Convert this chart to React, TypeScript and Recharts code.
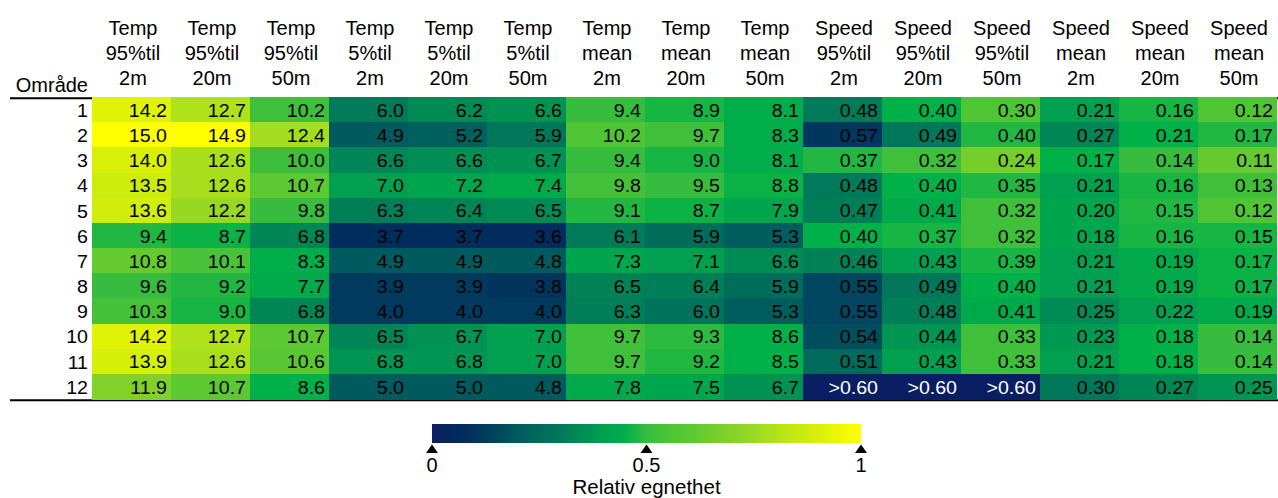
import { BarChart, Bar, XAxis, YAxis } from "recharts";

const areas = ["1", "2", "3", "4", "5", "6", "7", "8", "9", "10", "11", "12"];

const headers = [
  ["Temp", "95%til", "2m"], ["Temp", "95%til", "20m"], ["Temp", "95%til", "50m"],
  ["Temp", "5%til", "2m"], ["Temp", "5%til", "20m"], ["Temp", "5%til", "50m"],
  ["Temp", "mean", "2m"], ["Temp", "mean", "20m"], ["Temp", "mean", "50m"],
  ["Speed", "95%til", "2m"], ["Speed", "95%til", "20m"], ["Speed", "95%til", "50m"],
  ["Speed", "mean", "2m"], ["Speed", "mean", "20m"], ["Speed", "mean", "50m"],
];

// values per area, [2m, 20m, 50m]
const temp95 = [
  [14.2, 12.7, 10.2], [15.0, 14.9, 12.4], [14.0, 12.6, 10.0], [13.5, 12.6, 10.7],
  [13.6, 12.2, 9.8], [9.4, 8.7, 6.8], [10.8, 10.1, 8.3], [9.6, 9.2, 7.7],
  [10.3, 9.0, 6.8], [14.2, 12.7, 10.7], [13.9, 12.6, 10.6], [11.9, 10.7, 8.6],
];
const temp5 = [
  [6.0, 6.2, 6.6], [4.9, 5.2, 5.9], [6.6, 6.6, 6.7], [7.0, 7.2, 7.4],
  [6.3, 6.4, 6.5], [3.7, 3.7, 3.6], [4.9, 4.9, 4.8], [3.9, 3.9, 3.8],
  [4.0, 4.0, 4.0], [6.5, 6.7, 7.0], [6.8, 6.8, 7.0], [5.0, 5.0, 4.8],
];
const tempMean = [
  [9.4, 8.9, 8.1], [10.2, 9.7, 8.3], [9.4, 9.0, 8.1], [9.8, 9.5, 8.8],
  [9.1, 8.7, 7.9], [6.1, 5.9, 5.3], [7.3, 7.1, 6.6], [6.5, 6.4, 5.9],
  [6.3, 6.0, 5.3], [9.7, 9.3, 8.6], [9.7, 9.2, 8.5], [7.8, 7.5, 6.7],
];
// null = above 0.60 (printed as ">0.60")
const speed95 = [
  [0.48, 0.40, 0.30], [0.57, 0.49, 0.40], [0.37, 0.32, 0.24], [0.48, 0.40, 0.35],
  [0.47, 0.41, 0.32], [0.40, 0.37, 0.32], [0.46, 0.43, 0.39], [0.55, 0.49, 0.40],
  [0.55, 0.48, 0.41], [0.54, 0.44, 0.33], [0.51, 0.43, 0.33], [null, null, null],
];
const speedMean = [
  [0.21, 0.16, 0.12], [0.27, 0.21, 0.17], [0.17, 0.14, 0.11], [0.21, 0.16, 0.13],
  [0.20, 0.15, 0.12], [0.18, 0.16, 0.15], [0.21, 0.19, 0.17], [0.21, 0.19, 0.17],
  [0.25, 0.22, 0.19], [0.23, 0.18, 0.14], [0.21, 0.18, 0.14], [0.30, 0.27, 0.25],
];

// relative suitability (0-1) of each cell
const temp95Score = [
  [0.92, 0.8, 0.52], [1, 1, 0.77], [0.9, 0.78, 0.51], [0.87, 0.78, 0.6],
  [0.88, 0.74, 0.5], [0.48, 0.46, 0.33], [0.62, 0.54, 0.44], [0.5, 0.48, 0.43],
  [0.53, 0.47, 0.33], [0.92, 0.8, 0.6], [0.89, 0.78, 0.59], [0.69, 0.6, 0.45],
];
const temp5Score = [
  [0.3, 0.34, 0.36], [0.2, 0.22, 0.29], [0.33, 0.35, 0.36], [0.4, 0.42, 0.43],
  [0.31, 0.33, 0.34], [0.08, 0.08, 0.07], [0.2, 0.2, 0.2], [0.12, 0.12, 0.1],
  [0.12, 0.12, 0.12], [0.33, 0.36, 0.4], [0.37, 0.37, 0.4], [0.2, 0.2, 0.2],
];
const tempMeanScore = [
  [0.5, 0.47, 0.44], [0.56, 0.52, 0.44], [0.5, 0.47, 0.44], [0.53, 0.5, 0.46],
  [0.48, 0.46, 0.42], [0.3, 0.26, 0.21], [0.42, 0.4, 0.34], [0.32, 0.31, 0.26],
  [0.31, 0.28, 0.21], [0.52, 0.49, 0.45], [0.52, 0.48, 0.45], [0.43, 0.42, 0.36],
];
const speed95Score = [
  [0.3, 0.45, 0.56], [0.11, 0.29, 0.48], [0.48, 0.52, 0.66], [0.3, 0.45, 0.48],
  [0.31, 0.43, 0.52], [0.45, 0.47, 0.52], [0.32, 0.4, 0.47], [0.15, 0.29, 0.45],
  [0.15, 0.31, 0.43], [0.17, 0.37, 0.52], [0.25, 0.4, 0.52], [0, 0, 0],
];
const speedMeanScore = [
  [0.4, 0.47, 0.56], [0.33, 0.45, 0.48], [0.45, 0.5, 0.62], [0.4, 0.47, 0.52],
  [0.42, 0.48, 0.56], [0.42, 0.47, 0.47], [0.4, 0.43, 0.46], [0.4, 0.43, 0.46],
  [0.34, 0.4, 0.43], [0.38, 0.45, 0.5], [0.4, 0.45, 0.5], [0.29, 0.33, 0.37],
];

const colorStops: [number, string][] = [
  [0, "#0a1e64"], [0.08, "#002e5c"], [0.12, "#003a5e"], [0.16, "#004a5e"],
  [0.2, "#005a5e"], [0.25, "#006a5c"], [0.3, "#007a58"], [0.35, "#008e54"],
  [0.4, "#00a050"], [0.45, "#00b048"], [0.5, "#38bc3e"], [0.55, "#4cc436"],
  [0.6, "#5cc832"], [0.7, "#84d228"], [0.8, "#b0e21a"], [0.9, "#d8f008"],
  [1, "#ffff00"],
];
const colorbarTicks = [0, 0.5, 1];

const FONT = "'Liberation Sans', Arial, Helvetica, sans-serif";

function hex(c: string) {
  return [1, 3, 5].map((i) => parseInt(c.slice(i, i + 2), 16));
}

function colorAt(s: number) {
  for (let i = 1; i < colorStops.length; i++) {
    const [s1, c1] = colorStops[i];
    if (s <= s1) {
      const [s0, c0] = colorStops[i - 1];
      const t = (s - s0) / (s1 - s0);
      const a = hex(c0);
      const b = hex(c1);
      const m = a.map((v, k) => Math.round(v + (b[k] - v) * t));
      return `rgb(${m[0]},${m[1]},${m[2]})`;
    }
  }
  return colorStops[colorStops.length - 1][1];
}

const groups = [
  { values: temp95, scores: temp95Score, digits: 1 },
  { values: temp5, scores: temp5Score, digits: 1 },
  { values: tempMean, scores: tempMeanScore, digits: 1 },
  { values: speed95, scores: speed95Score, digits: 2 },
  { values: speedMean, scores: speedMeanScore, digits: 2 },
];

const rows = areas.map((area, i) => {
  const row: Record<string, any> = { area };
  groups.forEach((g, gi) =>
    g.values[i].forEach((v, k) => {
      const j = gi * 3 + k;
      row[`v${j}`] = 1;
      row[`s${j}`] = g.scores[i][k];
      row[`t${j}`] = v === null ? ">0.60" : v.toFixed(g.digits);
    })
  );
  return row;
});

// the numbers in the table are drawn a little wide
function WideText({ x, y, children, fill = "#000" }: any) {
  return (
    <text
      transform={`translate(${x},${y}) scale(1.12,1)`}
      textAnchor="end"
      fontSize={17.5}
      fill={fill}
    >
      {children}
    </text>
  );
}

function HeatCell(props: any) {
  const { x, y, width, height, payload, col } = props;
  const s = payload[`s${col}`];
  const x0 = Math.round(x);
  const x1 = Math.round(x + width);
  const y0 = Math.round(y);
  // bars come out slightly shorter than their band; overlap the next row by a pixel
  const y1 = Math.round(y + height) + 1;
  return (
    <g>
      <rect x={x0} y={y0} width={x1 - x0} height={y1 - y0} fill={colorAt(s)} />
      <WideText x={x + width - 4} y={y + height / 2 + 7.3} fill={s === 0 ? "#fff" : "#000"}>
        {payload[`t${col}`]}
      </WideText>
    </g>
  );
}

function RowTick({ x, y, payload }: any) {
  return (
    <WideText x={x} y={y + 7.3}>
      {payload.value}
    </WideText>
  );
}

function HeaderTick({ x, y, payload }: any) {
  const lines = headers[Math.floor(payload.value)];
  return (
    <g>
      {lines.map((l, i) => (
        <text key={i} x={x + 1.5} y={y - 62 + i * 25} textAnchor="middle" fontSize={20} fill="#000">
          {l}
        </text>
      ))}
    </g>
  );
}

function ColorbarTick({ x, y, payload }: any) {
  return (
    <g>
      <polygon points={`${x},${y + 1.5} ${x - 6},${y + 10} ${x + 6},${y + 10}`} fill="#000" />
      <text x={x} y={y + 29} textAnchor="middle" fontSize={20} fill="#000">
        {payload.value}
      </text>
    </g>
  );
}

export default function App() {
  const colTicks = headers.map((_, j) => j + 0.5);
  return (
    <div style={{ position: "absolute", left: 0, top: 0, width: 1278, height: 498, background: "#fff", fontFamily: FONT }}>
      <BarChart
        width={1278}
        height={410}
        data={rows}
        layout="vertical"
        barCategoryGap={0}
        margin={{ top: 0, right: 1, bottom: 11, left: 0 }}
      >
        <XAxis
          type="number"
          orientation="top"
          domain={[0, 15]}
          ticks={colTicks}
          height={97}
          axisLine={false}
          tickLine={false}
          tickSize={0}
          tickMargin={0}
          interval={0}
          tick={<HeaderTick />}
        />
        <YAxis
          type="category"
          dataKey="area"
          width={92}
          axisLine={false}
          tickLine={false}
          tickSize={0}
          tickMargin={4}
          interval={0}
          tick={<RowTick />}
        />
        {headers.map((_, j) => (
          <Bar
            key={j}
            dataKey={`v${j}`}
            stackId="cells"
            isAnimationActive={false}
            shape={(p: any) => <HeatCell {...p} col={j} />}
          />
        ))}
        <text x={88} y={92} textAnchor="end" fontSize={20} fill="#000">
          Område
        </text>
        <line x1={10} x2={1278} y1={98.3} y2={98.3} stroke="#000" strokeWidth={2} />
        <line x1={10} x2={1278} y1={400.3} y2={400.3} stroke="#000" strokeWidth={2} />
      </BarChart>

      <div style={{ position: "absolute", left: 412, top: 424 }}>
        <BarChart
          width={469}
          height={74}
          data={[{ k: "scale", v: 1 }]}
          layout="vertical"
          barCategoryGap={0}
          margin={{ top: 0, right: 20, bottom: 0, left: 20 }}
        >
          <defs>
            <linearGradient id="cbGrad" x1="0" y1="0" x2="1" y2="0">
              {colorStops.map(([s, c]) => (
                <stop key={s} offset={`${s * 100}%`} stopColor={c} />
              ))}
            </linearGradient>
          </defs>
          <XAxis
            type="number"
            domain={[0, 1]}
            ticks={colorbarTicks}
            height={55}
            axisLine={false}
            tickLine={false}
            tickSize={0}
            tickMargin={0}
            interval={0}
            tick={<ColorbarTick />}
          />
          <YAxis type="category" dataKey="k" hide />
          <Bar dataKey="v" fill="url(#cbGrad)" isAnimationActive={false} />
          <text x={234.5} y={69.5} textAnchor="middle" fontSize={20.5} fill="#000">
            Relativ egnethet
          </text>
        </BarChart>
      </div>
    </div>
  );
}
